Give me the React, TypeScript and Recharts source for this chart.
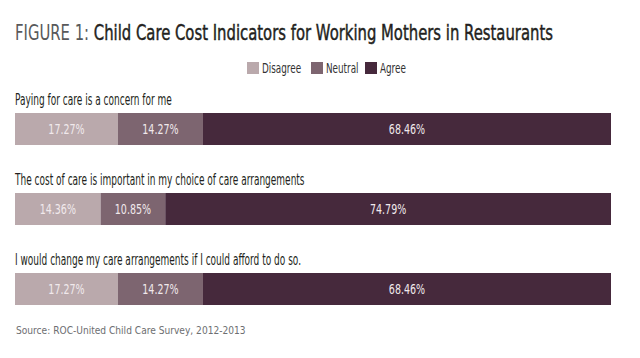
import { BarChart, Bar, XAxis, YAxis, LabelList } from "recharts"

const questions = [
  "Paying for care is a concern for me",
  "The cost of care is important in my choice of care arrangements",
  "I would change my care arrangements if I could afford to do so.",
]
const disagree = [17.27, 14.36, 17.27]
const neutral = [14.27, 10.85, 14.27]
const agree = [68.46, 74.79, 68.46]

const seriesNames = ["Disagree", "Neutral", "Agree"]
const seriesColors = ["#baa9ac", "#7d6570", "#46293c"]

const data = questions.map((q, i) => ({
  name: q,
  Disagree: disagree[i],
  Neutral: neutral[i],
  Agree: agree[i],
}))

const font = "'DejaVu Sans', sans-serif"
// squeeze DejaVu into something close to the condensed face of the original
const squeeze = 0.6

function QuestionLabel(props: any) {
  const { x, y, value } = props
  return (
    <text
      transform={`translate(${x},${y - 8}) scale(${squeeze},1)`}
      fill="#231f20"
      fontSize={15}
      fontFamily={font}
    >
      {value}
    </text>
  )
}

function PctLabel(props: any) {
  const { x, y, width, height, value } = props
  return (
    <text
      transform={`translate(${x + width / 2},${y + height / 2 + 5}) scale(0.68,1)`}
      textAnchor="middle"
      fill="#f1e9ec"
      fontSize={14}
      fontFamily={font}
    >
      {`${Number(value).toFixed(2)}%`}
    </text>
  )
}

const legendX = [247, 311, 365]

function Overlay() {
  return (
    <svg width={640} height={358} style={{ position: "absolute", left: 0, top: 0, pointerEvents: "none" }}>
      <text transform="translate(15,40) scale(0.675,1)" fontSize={22} fontFamily={font}>
        <tspan fill="#58595b">FIGURE 1: </tspan>
        <tspan fill="#231f20" stroke="#231f20" strokeWidth={0.5}>
          Child Care Cost Indicators for Working Mothers in Restaurants
        </tspan>
      </text>
      {seriesNames.map((n, i) => (
        <g key={n}>
          <rect x={legendX[i]} y={62} width={12} height={12} fill={seriesColors[i]} />
          <text
            transform={`translate(${legendX[i] + 15},${73}) scale(0.63,1)`}
            fontSize={14}
            fontFamily={font}
            fill="#333"
          >
            {n}
          </text>
        </g>
      ))}
      <text transform="translate(16,334) scale(0.91,1)" fontSize={10} fontFamily={font} fill="#6d6e71">
        Source: ROC-United Child Care Survey, 2012-2013
      </text>
    </svg>
  )
}

export default function App() {
  return (
    <div style={{ position: "relative", width: 640, height: 358, background: "#fff" }}>
      <style>{"body{margin:0}"}</style>
      <BarChart
        width={640}
        height={358}
        data={data}
        layout="vertical"
        margin={{ top: 89, right: 29, bottom: 29, left: 15 }}
        barSize={32}
      >
        <XAxis type="number" domain={[0, 100]} hide />
        <YAxis type="category" dataKey="name" hide />
        {seriesNames.map((n, i) => (
          <Bar key={n} dataKey={n} stackId="a" fill={seriesColors[i]} isAnimationActive={false}>
            <LabelList dataKey={n} content={<PctLabel />} />
            {i === 0 && <LabelList dataKey="name" content={<QuestionLabel />} />}
          </Bar>
        ))}
      </BarChart>
      <Overlay />
    </div>
  )
}
